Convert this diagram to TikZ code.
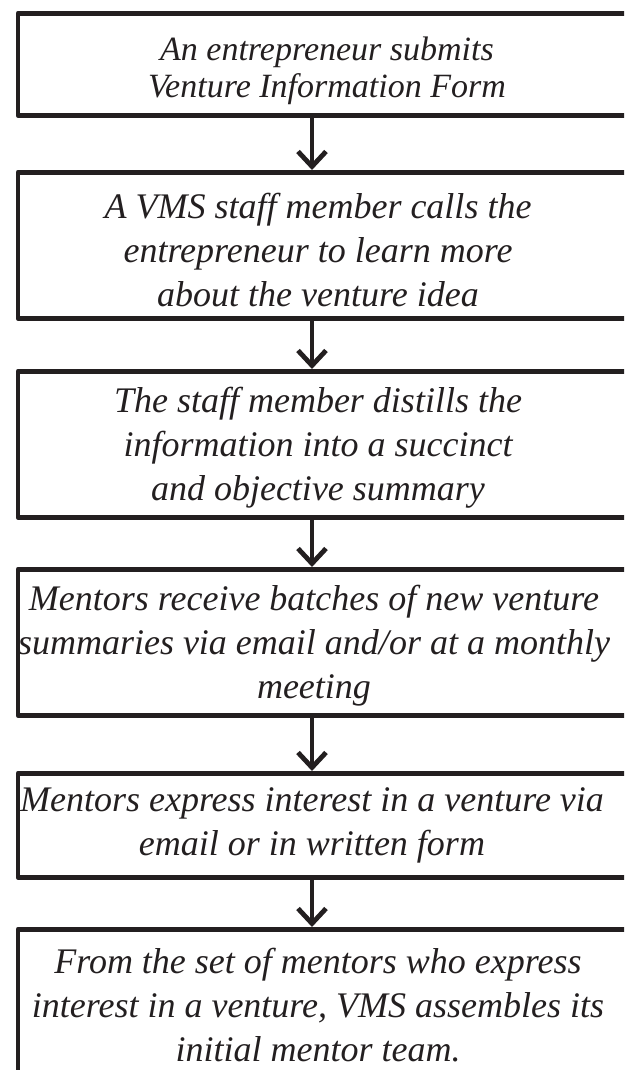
\documentclass[tikz,border=0pt]{standalone}
\usepackage{fontspec}
\setmainfont{Liberation Serif}
\usetikzlibrary{arrows.meta}
\definecolor{ink}{HTML}{231F20}
\tikzset{
  stepbox/.style={draw=ink, line width=4.8pt, line join=round, minimum width=640pt, anchor=north west, inner sep=0pt},
  steptext/.style={text=ink, align=center, font=\fontsize{36}{44}\selectfont\itshape, inner sep=0pt},
  flow/.style={draw=ink, line width=4.8pt, -{Straight Barb[length=15pt,width=28pt,line width=4.8pt]}}
}
\begin{document}
\begin{tikzpicture}[x=1pt,y=1pt]
\useasboundingbox (0,0) rectangle (624,-1070);
\begin{scope}
\clip (0,0) rectangle (624,-1070);
% boxes: left edge and vertical extent of each step
\node[stepbox, minimum height=102pt] (b1) at (15.5,-11) {};
\node[stepbox, minimum height=146pt] (b2) at (15.5,-170) {};
\node[stepbox, minimum height=146pt] (b3) at (15.5,-369) {};
\node[stepbox, minimum height=146pt] (b4) at (15.5,-567) {};
\node[stepbox, minimum height=104pt] (b5) at (15.5,-771) {};
\node[stepbox, minimum height=180pt] (b6) at (15.5,-927) {};
\end{scope}
% texts
\node[steptext, font=\fontsize{34}{37}\selectfont\itshape] (t1) at (327,-71) {An entrepreneur submits\\Venture Information Form};
\node[steptext] (t2) at (318,-250) {A VMS staff member calls the\\entrepreneur to learn more\\about the venture idea};
\node[steptext] (t3) at (318,-448) {The staff member distills the\\information into a succinct\\and objective summary};
\node[steptext] (t4) at (314,-646) {Mentors receive batches of new venture\\summaries via email and/or at a monthly\\meeting};
\node[steptext] (t5) at (312,-825) {Mentors express interest in a venture via\\email or in written form};
\node[steptext] (t6) at (318,-1005) {From the set of mentors who express\\interest in a venture, VMS assembles its\\initial mentor team.};
% connectors
\coordinate (ax) at (312,0);
\draw[flow] (b1.south -| ax) -- (b2.north -| ax);
\draw[flow] (b2.south -| ax) -- (b3.north -| ax);
\draw[flow] (b3.south -| ax) -- (b4.north -| ax);
\draw[flow] (b4.south -| ax) -- (b5.north -| ax);
\draw[flow] (b5.south -| ax) -- (b6.north -| ax);
\end{tikzpicture}
\end{document}
